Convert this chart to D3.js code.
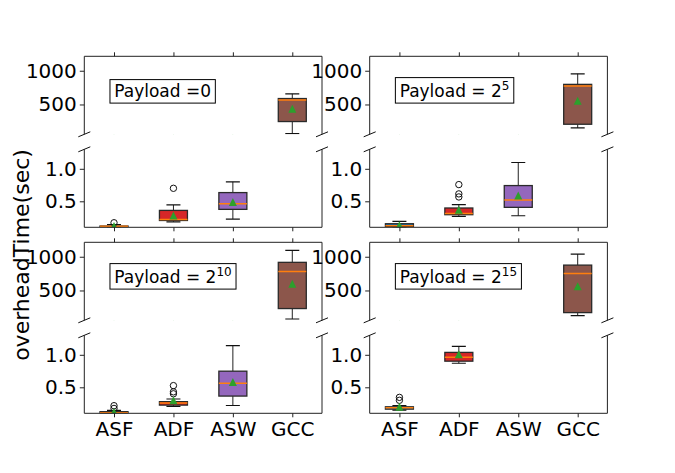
<!DOCTYPE html>
<html>
<head>
<meta charset="utf-8">
<script src="https://cdn.jsdelivr.net/npm/d3@7"></script>
<style>
  body { margin: 0; background: #fff; }
  svg { font-family: "DejaVu Sans", sans-serif; }
</style>
</head>
<body>
<svg id="chart" width="675" height="473"></svg>
<script>
// categories on the x axis, one box colour each
const categories = ["ASF", "ADF", "ASW", "GCC"];
const boxColors = ["#1f77b4", "#d62728", "#9467bd", "#8c564b"];
const payloadExp = ["0", "5", "10", "15"];

// per payload: [whislo, q1, median, q3, whishi, mean, fliers] (null = no box)
const payload0 = [
  [0.10, 0.105, 0.115, 0.12, 0.14, 0.12, [0.17]],
  [0.185, 0.205, 0.22, 0.36, 0.444, 0.28, [0.70]],
  [0.227, 0.376, 0.464, 0.634, 0.80, 0.49, []],
  [68, 247, 568, 588, 658, 435, []]
];
const payload5 = [
  [0.10, 0.113, 0.124, 0.155, 0.19, 0.13, []],
  [0.267, 0.294, 0.314, 0.397, 0.448, 0.37, [0.567, 0.614, 0.757]],
  [0.278, 0.407, 0.52, 0.742, 1.097, 0.59, []],
  [152, 207, 772, 798, 955, 555, []]
];
const payload10 = [
  [0.09, 0.095, 0.11, 0.125, 0.144, 0.12, [0.175, 0.217]],
  [0.206, 0.226, 0.257, 0.279, 0.32, 0.30, [0.40, 0.43, 0.526]],
  [0.22, 0.365, 0.562, 0.748, 1.14, 0.58, []],
  [77, 232, 783, 917, 1095, 598, []]
];
const payload15 = [
  [0.15, 0.164, 0.186, 0.20, 0.217, 0.20, [0.30, 0.345]],
  [0.87, 0.902, 0.964, 1.037, 1.13, 1.01, []],
  null,
  [128, 172, 753, 876, 1040, 564, []]
];

const topLim = [58, 1214], topTicks = [500, 1000];
const botLim = [0.1, 1.3], botTicks = [0.5, 1.0];

const svg = d3.select("#chart");
const W = 237.7, H = 78;
const colX = [84.3, 369.7];
const rowY = [56.3, 242.3];
const pitch = 93;

const cells = [
  { data: payload0, exp: payloadExp[0], col: 0, row: 0 },
  { data: payload5, exp: payloadExp[1], col: 1, row: 0 },
  { data: payload10, exp: payloadExp[2], col: 0, row: 1 },
  { data: payload15, exp: payloadExp[3], col: 1, row: 1 }
];

const x = d3.scalePoint().domain(categories).range([0, W]).padding(0.5);
const boxW = 28;
let clipId = 0;

function drawBoxes(g, y, data) {
  data.forEach((d, i) => {
    if (!d) return;
    const cx = x(categories[i]);
    const [lo, q1, med, q3, hi, mean, fliers] = d;
    const b = g.append("g");
    // whiskers
    b.append("line").attr("x1", cx).attr("x2", cx).attr("y1", y(q1)).attr("y2", y(lo))
      .attr("stroke", "#222").attr("stroke-width", 1);
    b.append("line").attr("x1", cx).attr("x2", cx).attr("y1", y(q3)).attr("y2", y(hi))
      .attr("stroke", "#222").attr("stroke-width", 1);
    // caps
    [lo, hi].forEach(v => {
      b.append("line").attr("x1", cx - boxW / 4).attr("x2", cx + boxW / 4)
        .attr("y1", y(v)).attr("y2", y(v)).attr("stroke", "#111").attr("stroke-width", 1.2);
    });
    b.append("rect").attr("x", cx - boxW / 2).attr("width", boxW)
      .attr("y", y(q3)).attr("height", Math.max(0.5, y(q1) - y(q3)))
      .attr("fill", boxColors[i]).attr("stroke", "#2a2a2a").attr("stroke-width", 1.3);
    b.append("line").attr("x1", cx - boxW / 2).attr("x2", cx + boxW / 2)
      .attr("y1", y(med)).attr("y2", y(med)).attr("stroke", "#ff7f0e").attr("stroke-width", 1.5);
    fliers.forEach(v => {
      b.append("circle").attr("cx", cx).attr("cy", y(v)).attr("r", 3.2)
        .attr("fill", "none").attr("stroke", "#111").attr("stroke-width", 1);
    });
    const my = y(mean);
    b.append("path").attr("d", `M${cx},${my - 4}L${cx + 4},${my + 4}L${cx - 4},${my + 4}Z`)
      .attr("fill", "#2ca02c");
  });
}

function breakMark(g, px, py) {
  g.append("line").attr("x1", px - 6).attr("y1", py + 2.5).attr("x2", px + 6).attr("y2", py - 2.5)
    .attr("stroke", "#111").attr("stroke-width", 1);
}

cells.forEach(cell => {
  const left = colX[cell.col];
  const panels = [
    { top: rowY[cell.row], y: d3.scaleLinear().domain(topLim).range([H, 0]), ticks: topTicks, fmt: d3.format("d"), kind: "top" },
    { top: rowY[cell.row] + pitch, y: d3.scaleLinear().domain(botLim).range([H, 0]), ticks: botTicks, fmt: d3.format(".1f"), kind: "bot" }
  ];
  panels.forEach(p => {
    const g = svg.append("g").attr("transform", `translate(${left},${p.top})`);
    const id = "clip" + (clipId++);
    g.append("clipPath").attr("id", id).append("rect").attr("width", W).attr("height", H);
    drawBoxes(g.append("g").attr("clip-path", `url(#${id})`), p.y, cell.data);

    // y axis
    const ya = g.append("g").call(d3.axisLeft(p.y).tickValues(p.ticks).tickFormat(p.fmt).tickSize(4.5).tickPadding(3));
    ya.select(".domain").remove();
    ya.selectAll("text").attr("font-size", 20).attr("font-family", "DejaVu Sans").attr("fill", "#000");
    ya.selectAll("line").attr("stroke", "#222");

    // x axis ticks
    if (p.kind === "top") {
      const xa = g.append("g").call(d3.axisTop(x).tickSize(4).tickFormat(""));
      xa.select(".domain").remove();
      xa.selectAll("line").attr("stroke", "#222");
    } else {
      const xa = g.append("g").attr("transform", `translate(0,${H})`)
        .call(d3.axisBottom(x).tickSize(4).tickPadding(5).tickFormat(cell.row === 1 ? d => d : ""));
      xa.select(".domain").remove();
      xa.selectAll("line").attr("stroke", "#222");
      xa.selectAll("text").attr("font-size", 20).attr("font-family", "DejaVu Sans").attr("fill", "#000");
    }

    // spines: no bottom on top panel, no top on bottom panel
    const spine = (x1, y1, x2, y2) => g.append("line")
      .attr("x1", x1).attr("y1", y1).attr("x2", x2).attr("y2", y2)
      .attr("stroke", "#222").attr("stroke-width", 1);
    spine(0, 0, 0, H);
    spine(W, 0, W, H);
    if (p.kind === "top") {
      spine(0, 0, W, 0);
      breakMark(g, 0, H);
      breakMark(g, W, H);
    } else {
      spine(0, H, W, H);
      breakMark(g, 0, 0);
      breakMark(g, W, 0);
    }
  });

  // payload label in the top panel
  const tg = svg.append("g");
  const tx = left + 0.108 * W + 4.3;
  const ty = rowY[cell.row] + 40.8;
  const t = tg.append("text").attr("x", tx).attr("y", ty).attr("font-size", 17).attr("fill", "#000");
  if (cell.exp === "0") {
    t.text("Payload =0");
  } else {
    t.append("tspan").text("Payload = 2");
    t.append("tspan").attr("font-size", 12).attr("dy", -7).text(cell.exp);
  }
  const bb = t.node().getBBox();
  tg.insert("rect", "text").attr("x", bb.x - 4.3).attr("y", bb.y - 1.5)
    .attr("width", bb.width + 8.6).attr("height", bb.height + 3.5)
    .attr("fill", "#fff").attr("stroke", "#000").attr("stroke-width", 1);
});

svg.append("text").attr("transform", "translate(21,255) rotate(-90)")
  .attr("text-anchor", "middle").attr("dominant-baseline", "central")
  .attr("font-size", 22).attr("fill", "#000").text("overheadTime(sec)");
</script>
</body>
</html>
